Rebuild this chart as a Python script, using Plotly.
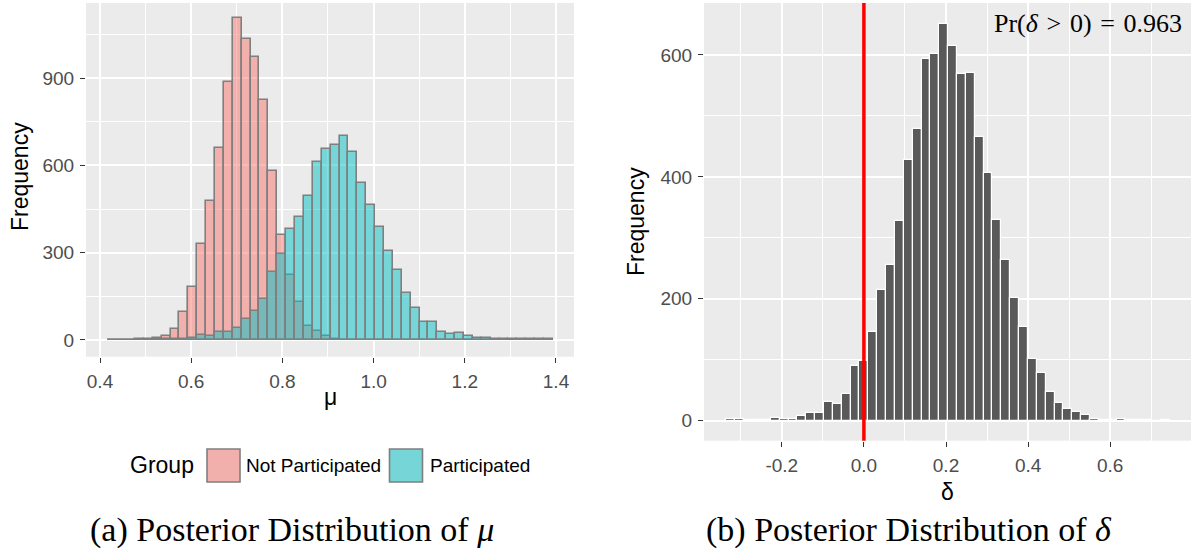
import numpy as np
import plotly.graph_objects as go

# ---------------- data ----------------
# Histogram of mu (50 bins), counts per bin for each group
mu_bin_start = 0.428      # centre of first bin
mu_bin_width = 0.0195
not_participated = [1, 1, 1, 2, 4, 8, 15, 38, 95, 182, 329, 479, 661, 887, 1107,
                    1034, 973, 824, 581, 359, 222, 130, 48, 30, 15, 4, 1, 0, 0, 0,
                    0, 0, 0, 0, 0, 0, 0, 0, 0, 0, 0, 0, 0, 0, 0, 0, 0, 0, 0, 0]
participated = [1, 1, 1, 1, 1, 2, 2, 3, 5, 8, 16, 14, 26, 26, 40, 71, 98, 140, 232,
                295, 381, 423, 496, 610, 656, 670, 701, 645, 540, 465, 387, 306, 241,
                163, 109, 61, 61, 29, 20, 25, 13, 8, 8, 5, 4, 2, 4, 4, 2, 2]
groups = ["Not Participated", "Participated"]

# Histogram of delta (50 bins)
delta_bin_start = -0.324
delta_bin_width = 0.0216
delta_counts = [2, 2, 1, 1, 1, 4, 3, 3, 8, 12, 13, 31, 27, 44, 89, 98, 145, 214, 255,
                328, 427, 478, 594, 602, 651, 615, 569, 570, 465, 407, 330, 264, 201,
                153, 102, 78, 47, 29, 19, 14, 9, 3, 1, 1, 2, 1, 1, 1, 0, 1]
pr_delta_positive = 0.963

mu_ticks = [0.4, 0.6, 0.8, 1.0, 1.2, 1.4]
mu_ticktext = ["0.4", "0.6", "0.8", "1.0", "1.2", "1.4"]
mu_minor = [0.5, 0.7, 0.9, 1.1, 1.3]
freq1_ticks = [0, 300, 600, 900]
freq1_minor = [150, 450, 750, 1050]
delta_ticks = [-0.2, 0.0, 0.2, 0.4, 0.6]
delta_ticktext = ["-0.2", "0.0", "0.2", "0.4", "0.6"]
delta_minor = [-0.3, -0.1, 0.1, 0.3, 0.5, 0.7]
freq2_ticks = [0, 200, 400, 600]
freq2_minor = [100, 300, 500]

# ---------------- figure ----------------
W, H = 1191, 554
def px(x):
    return x / W
def py(y):
    return 1 - y / H

mu_centers = mu_bin_start + mu_bin_width * np.arange(len(participated))
delta_centers = delta_bin_start + delta_bin_width * np.arange(len(delta_counts))

PINK = "rgba(248,118,109,0.5)"
TEAL = "rgba(0,191,196,0.5)"
OUTLINE = "#7F7F7F"

fig = go.Figure()
fig.add_trace(go.Bar(x=mu_centers, y=not_participated, width=mu_bin_width,
                     name=groups[0], xaxis="x", yaxis="y", showlegend=False,
                     marker=dict(color=PINK, line=dict(color=OUTLINE, width=1.6))))
fig.add_trace(go.Bar(x=mu_centers, y=participated, width=mu_bin_width,
                     name=groups[1], xaxis="x", yaxis="y", showlegend=False,
                     marker=dict(color=TEAL, line=dict(color=OUTLINE, width=1.6))))
fig.add_trace(go.Bar(x=delta_centers, y=delta_counts, width=delta_bin_width,
                     xaxis="x2", yaxis="y2", showlegend=False,
                     marker=dict(color="#595959", line=dict(color="white", width=1.2))))

tickfont = dict(family="Liberation Sans", size=19, color="#4D4D4D")
common = dict(showgrid=True, gridcolor="white", gridwidth=1.5, zeroline=False,
              showline=False, ticks="outside", ticklen=5, tickwidth=1.1,
              tickcolor="#333333", tickfont=tickfont, ticklabelstandoff=2)
minor_style = dict(showgrid=True, gridcolor="white", gridwidth=0.7, ticks="")

fig.update_layout(
    width=W, height=H, autosize=False,
    margin=dict(l=0, r=0, t=0, b=0),
    paper_bgcolor="white", plot_bgcolor="#EBEBEB",
    barmode="overlay", bargap=0,
    xaxis=dict(domain=[px(86), px(574)], range=[0.3693, 1.4395], anchor="y",
               tickmode="array", tickvals=mu_ticks, ticktext=mu_ticktext,
               minor=dict(tickmode="array", tickvals=mu_minor, **minor_style), **common),
    yaxis=dict(domain=[py(356.7), py(3)], range=[-57.4, 1157.7], anchor="x",
               tickmode="array", tickvals=freq1_ticks,
               minor=dict(tickmode="array", tickvals=freq1_minor, **minor_style), **common),
    xaxis2=dict(domain=[px(704), 1.0], range=[-0.3895, 0.7968], anchor="y2",
                tickmode="array", tickvals=delta_ticks, ticktext=delta_ticktext,
                minor=dict(tickmode="array", tickvals=delta_minor, **minor_style), **common),
    yaxis2=dict(domain=[py(440.7), py(3)], range=[-32.8, 685.3], anchor="x2",
                tickmode="array", tickvals=freq2_ticks,
                minor=dict(tickmode="array", tickvals=freq2_minor, **minor_style), **common),
)

# red reference line at delta = 0
fig.add_shape(type="line", xref="x2", yref="y2 domain", x0=0, x1=0, y0=0, y1=1,
              line=dict(color="#FF0000", width=3.5), layer="above")

title_font = dict(family="Liberation Sans", size=23, color="black")
serif = "Liberation Serif"
sp = "\u2004"
ann = [
    dict(text="Frequency", x=px(20), y=py(177), textangle=-90, font=title_font),
    dict(text="Frequency", x=px(636), y=py(222), textangle=-90, font=title_font),
    dict(text="μ", x=px(330), y=py(397), font=title_font),
    dict(text="δ", x=px(947), y=py(492), font=title_font),
    dict(text="Group", x=px(128), y=py(465), xanchor="left", font=title_font),
    dict(text=groups[0], x=px(244), y=py(465), xanchor="left",
         font=dict(family="Liberation Sans", size=19, color="black")),
    dict(text=groups[1], x=px(428), y=py(465), xanchor="left",
         font=dict(family="Liberation Sans", size=19, color="black")),
    dict(text="Pr(<i>δ</i>" + sp + "&gt;" + sp + "0)" + sp + "=" + sp + "%.3f" % pr_delta_positive,
         x=px(1184), y=py(23), xanchor="right",
         font=dict(family=serif, size=26, color="black")),
    dict(text="(a) Posterior Distribution of <i>μ</i>", x=px(292), y=py(530),
         font=dict(family=serif, size=34, color="black")),
    dict(text="(b) Posterior Distribution of <i>δ</i>", x=px(909), y=py(530),
         font=dict(family=serif, size=34, color="black")),
]
for a in ann:
    a.setdefault("xref", "paper")
    a.setdefault("yref", "paper")
    a.setdefault("showarrow", False)
    a.setdefault("xanchor", "center")
    a.setdefault("yanchor", "middle")
    fig.add_annotation(**a)

# legend keys
for x0, col in [(207, PINK), (389.5, TEAL)]:
    fig.add_shape(type="rect", xref="paper", yref="paper",
                  x0=px(x0), x1=px(x0 + 33), y0=py(482), y1=py(449),
                  fillcolor="#EBEBEB", line=dict(width=0))
    fig.add_shape(type="rect", xref="paper", yref="paper",
                  x0=px(x0), x1=px(x0 + 33), y0=py(482), y1=py(449),
                  fillcolor=col, line=dict(color=OUTLINE, width=1.6))

fig.write_html("out.html")
